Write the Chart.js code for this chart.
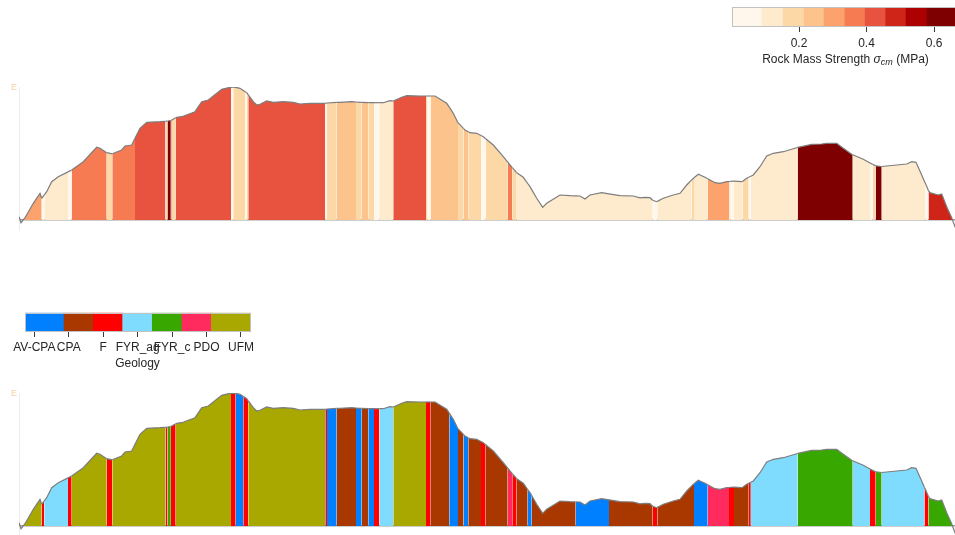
<!DOCTYPE html>
<html>
<head>
<meta charset="utf-8">
<script src="https://cdn.jsdelivr.net/npm/chart.js@4.4.1/dist/chart.umd.min.js"></script>
<style>
  html, body { margin: 0; padding: 0; background: #ffffff; }
  body { position: relative; width: 955px; height: 535px; overflow: hidden;
         font-family: "Liberation Sans", Arial, sans-serif; }
  canvas { position: absolute; }
  #profileStrength { left: 0; top: 0; }
  #profileGeology { left: 0; top: 306px; }
  #barStrength { left: 700px; top: 0; }
  #barGeology { left: 0; top: 300px; }
  .lbl { position: absolute; font-size: 12px; color: #262626; white-space: nowrap;
         transform: translate(-50%, -50%); line-height: 14px; }
  .lbl sub { font-size: 9px; vertical-align: -2px; line-height: 0; }
</style>
</head>
<body>
<canvas id="profileStrength" width="1000" height="235" style="width:1000px;height:235px"></canvas>
<canvas id="profileGeology" width="1000" height="235" style="width:1000px;height:235px"></canvas>
<canvas id="barStrength" width="300" height="51" style="width:300px;height:51px"></canvas>
<canvas id="barGeology" width="280" height="56" style="width:280px;height:56px"></canvas>
<div class="lbl" style="left:845.5px;top:58.5px">Rock Mass Strength <i>σ<sub>cm</sub></i> (MPa)</div>
<div class="lbl" style="left:137.5px;top:363px">Geology</div>
<script>
// ---- Elevation profile (distance along section, km / elevation, m) ----
const distKm = [0.000,0.011,0.020,0.042,0.060,0.143,0.210,0.227,0.253,0.277,0.327,0.393,0.490,0.527,0.643,0.777,0.810,0.877,0.933,1.027,
  1.060,1.127,1.160,1.210,1.277,1.410,1.465,1.485,1.518,1.527,1.567,1.577,1.627,1.760,1.827,1.893,1.943,2.027,2.110,2.120,
  2.143,2.167,2.210,2.243,2.260,2.277,2.293,2.343,2.377,2.410,2.477,2.543,2.643,2.743,2.810,2.910,3.063,3.080,3.177,3.210,
  3.327,3.370,3.410,3.427,3.493,3.550,3.603,3.643,3.710,3.743,3.827,3.877,4.010,4.070,4.085,4.117,4.160,4.277,4.303,4.343,
  4.390,4.446,4.460,4.493,4.510,4.577,4.620,4.643,4.667,4.743,4.843,4.887,4.910,4.933,4.977,5.043,5.087,5.110,5.127,5.177,
  5.237,5.277,5.410,5.510,5.567,5.610,5.660,5.710,5.827,5.900,6.010,6.143,6.210,6.260,6.310,6.337,6.377,6.383,6.443,6.543,
  6.610,6.677,6.727,6.750,6.793,6.860,6.887,6.960,7.010,7.077,7.100,7.117,7.150,7.227,7.237,7.277,7.297,7.318,7.343,7.410,
  7.477,7.543,7.643,7.777,7.787,7.927,8.027,8.077,8.177,8.243,8.327,8.337,8.443,8.510,8.537,8.567,8.627,8.777,8.877,8.927,
  8.970,9.027,9.055,9.067,9.095,9.110,9.193,9.227,9.277,9.327,9.335,9.360,9.430];
const elevM = [6.6,0,-5.4,0,4.6,33.4,53.4,43.4,50.2,56.6,76.6,86.6,96.2,100.0,116.6,145.4,143.4,134.6,132.4,140.0,
  148.0,150.0,163.4,183.4,195.4,196.6,197.4,198.0,199.0,200.0,204.4,205.4,206.6,216.6,236.6,240.0,248.0,261.4,265.4,265.4,
  265.6,265.4,263.4,259.0,256.8,254.6,250.2,236.6,230.0,231.4,238.0,235.4,236.6,235.4,232.0,233.4,233.4,234.0,235.2,235.4,
  236.6,236.0,235.4,235.2,234.8,234.6,234.6,234.6,238.6,238.0,245.4,248.6,248.0,248.0,248.0,248.0,248.0,233.4,225.6,213.4,
  194.6,182.8,180.0,176.4,174.6,173.4,169.0,166.6,162.6,150.0,126.6,115.6,110.0,104.6,94.6,85.4,73.0,66.6,60.8,43.4,
  25.4,33.4,50.0,48.6,48.2,48.0,42.0,50.0,54.6,52.4,48.6,48.0,44.4,45.4,44.6,39.6,36.6,37.2,43.4,50.0,
  53.4,70.0,80.2,84.6,91.4,85.4,82.6,74.6,73.4,76.6,77.0,77.4,77.8,76.6,77.6,83.4,85.4,87.4,90.0,106.6,
  128.0,133.4,136.6,144.6,145.2,151.4,152.0,153.4,153.4,143.4,131.4,130.6,121.4,114.0,111.2,108.4,107.0,110.0,112.0,116.6,
  115.4,90.0,77.0,71.8,58.6,54.6,50.0,52.0,26.6,4.6,0,-13.4,-40.0];

// ---- Rock mass strength along the section (run start km, sigma_cm MPa) ----
const strengthRunStart = [0.000,0.227,0.253,0.490,0.527,0.877,0.933,1.160,1.465,1.485,1.518,1.527,1.567,2.120,2.143,2.260,2.277,2.293,
  3.063,3.080,3.177,3.370,3.427,3.493,3.550,3.603,3.743,4.070,4.085,4.117,4.390,4.446,4.493,4.620,4.667,4.887,4.933,4.977,
  6.337,6.383,6.727,6.750,6.887,7.100,7.117,7.150,7.237,7.297,7.318,7.787,8.337,8.510,8.537,8.567,8.627,9.067,9.095];
const strengthRunValue = [0.30,0.05,0.12,0.05,0.36,0.18,0.36,0.43,0.18,0.62,0.43,0.18,0.43,0.05,0.18,0.05,0.18,0.43,
  0.05,0.18,0.24,0.18,0.24,0.18,0.05,0.12,0.43,0.18,0.05,0.24,0.18,0.24,0.18,0.05,0.18,0.36,0.18,0.12,
  0.05,0.12,0.18,0.12,0.30,0.12,0.05,0.12,0.18,0.05,0.12,0.62,0.12,0.05,0.18,0.62,0.12,0.05,0.49];
const strengthBinEdges = [0, 0.090, 0.153, 0.215, 0.274, 0.336, 0.396, 0.457, 0.517, 0.579, 0.668];
const strengthColors = ['#fff7ec','#feeacc','#fdd8a7','#fdc38d','#fca26c','#f67b52','#e7533f','#cf2518','#ad0000','#7f0000'];
const strengthTicks = [0.2, 0.4, 0.6];

// ---- Geology along the section (run start km, unit) ----
const geologyRunStart = [0.000,0.227,0.253,0.490,0.527,0.877,0.933,1.465,1.485,1.518,1.567,2.120,2.167,2.243,2.293,
  3.063,3.080,3.177,3.370,3.427,3.493,3.550,3.603,3.743,4.070,4.117,4.303,4.390,4.446,4.493,4.620,4.667,4.887,4.933,
  4.977,5.087,5.127,5.567,5.900,6.337,6.383,6.750,6.887,7.100,7.150,7.297,7.318,7.787,8.337,8.510,8.567,8.627,9.055,9.095];
const geologyRunUnit = ['UFM','F','FYR_ag','F','UFM','F','UFM','F','FYR_c','F','UFM','F','AV-CPA','F','UFM',
  'F','AV-CPA','CPA','AV-CPA','CPA','AV-CPA','F','FYR_ag','UFM','F','CPA','AV-CPA','CPA','AV-CPA','CPA','F','CPA','PDO','F',
  'CPA','AV-CPA','CPA','AV-CPA','CPA','F','CPA','AV-CPA','PDO','F','CPA','F','FYR_ag','FYR_c','FYR_ag','F','FYR_c','FYR_ag','F','FYR_c'];
const geologyUnits = ['AV-CPA','CPA','F','FYR_ag','FYR_c','PDO','UFM'];
const geologyColors = ['#0080ff','#a83800','#ff0000','#80dcff','#38a800','#ff2b5e','#a8a800'];
const geologyLegendEdges = [-0.27, 0.862, 1.713, 2.566, 3.425, 4.287, 5.138, 6.282];

const FONT = '"Liberation Sans", Arial, sans-serif';
Chart.defaults.font.family = FONT;
const ELEV_MIN = -20, ELEV_MAX = 266;

function runIndex(starts, x) {
  let i = 0;
  while (i + 1 < starts.length && starts[i + 1] <= x) i++;
  return i;
}
function strengthColor(v) {
  let k = 0;
  while (k + 2 < strengthBinEdges.length && strengthBinEdges[k + 1] <= v) k++;
  return strengthColors[k];
}
const strengthAt = x => strengthColor(strengthRunValue[runIndex(strengthRunStart, x)]);
const geologyAt = x => geologyColors[geologyUnits.indexOf(geologyRunUnit[runIndex(geologyRunStart, x)])];

// small axis letter at the top of the elevation axis
const elevationMark = {
  id: 'elevationMark',
  afterDraw(chart) {
    const {ctx, scales: {x, y}} = chart;
    ctx.save();
    ctx.fillStyle = '#fbcf9f';
    ctx.font = '9px ' + FONT;
    ctx.textAlign = 'right';
    ctx.textBaseline = 'middle';
    ctx.fillText('E', x.getPixelForValue(0) - 2, y.getPixelForValue(ELEV_MAX) + 1);
    ctx.restore();
  }
};

function profileChart(id, colorAt) {
  return new Chart(document.getElementById(id), {
    type: 'line',
    data: {
      datasets: [{
        data: distKm.map((d, i) => ({x: d, y: elevM[i]})),
        borderColor: '#7d7d7d',
        borderWidth: 1.2,
        backgroundColor: '#ffffff',
        pointRadius: 0,
        tension: 0,
        fill: 'origin',
        segment: {
          backgroundColor: c => {
            const i = c.p0DataIndex, j = c.p1DataIndex;
            if (elevM[i] <= 0 && elevM[j] <= 0) return 'rgba(0,0,0,0)';
            return colorAt((distKm[i] + distKm[j]) / 2);
          }
        }
      }]
    },
    options: {
      responsive: false,
      animation: false,
      events: [],
      layout: {padding: {left: 19, right: 0, top: 87, bottom: 5}},
      plugins: {legend: {display: false}, tooltip: {enabled: false}},
      scales: {
        x: {type: 'linear', display: false, min: 0, max: 9.81},
        y: {
          type: 'linear', min: ELEV_MIN, max: ELEV_MAX, z: 1,
          afterFit: s => { s.width = 0; },
          border: {display: true, color: '#ececec', width: 1},
          grid: {
            drawTicks: false,
            lineWidth: 1.5,
            color: c => (c.tick && c.tick.value === 0) ? '#9c9c9c' : 'rgba(0,0,0,0)'
          },
          ticks: {display: false, stepSize: 20}
        }
      }
    },
    plugins: [elevationMark]
  });
}

profileChart('profileStrength', strengthAt);
profileChart('profileGeology', geologyAt);

// outline around the colour bars
const frame = {
  id: 'frame',
  afterDatasetsDraw(chart) {
    const {ctx, chartArea: a} = chart;
    ctx.save();
    ctx.strokeStyle = '#c2c2c2';
    ctx.lineWidth = 1;
    ctx.strokeRect(Math.round(a.left) + 0.5, Math.round(a.top) + 0.5,
                   Math.round(a.right) - Math.round(a.left) - 1, Math.round(a.bottom) - Math.round(a.top) - 1);
    ctx.restore();
  }
};

function colourBar(id, edges, colors, tickValues, tickText, padding, labelGap) {
  return new Chart(document.getElementById(id), {
    type: 'bar',
    data: {
      labels: ['bar'],
      datasets: [{
        data: colors.map((c, k) => ({x: [edges[k], edges[k + 1]], y: 'bar'})),
        backgroundColor: colors,
        borderWidth: 0,
        barPercentage: 1,
        categoryPercentage: 1
      }]
    },
    options: {
      indexAxis: 'y',
      responsive: false,
      animation: false,
      events: [],
      layout: {padding: padding},
      plugins: {legend: {display: false}, tooltip: {enabled: false}},
      scales: {
        y: {display: false},
        x: {
          type: 'linear', min: edges[0], max: edges[edges.length - 1],
          afterBuildTicks: s => { s.ticks = tickValues.map(v => ({value: v})); },
          afterFit: s => { s.height = 24; },
          border: {display: false},
          grid: {drawOnChartArea: false, drawTicks: true, tickLength: 5, color: '#3a3a3a', lineWidth: 1},
          ticks: {
            color: '#262626', font: {size: 12, family: FONT}, padding: labelGap,
            autoSkip: false, maxRotation: 0, minRotation: 0,
            callback: tickText
          }
        }
      }
    },
    plugins: [frame]
  });
}

colourBar('barStrength', strengthBinEdges, strengthColors, strengthTicks,
          v => v.toFixed(1), {left: 31.5, right: 43, top: 7, bottom: 0}, 4);
colourBar('barGeology', geologyLegendEdges, geologyColors, geologyUnits.map((u, i) => i),
          v => geologyUnits[v], {left: 25, right: 29.3, top: 12.7, bottom: 0}, 3);
</script>
</body>
</html>
